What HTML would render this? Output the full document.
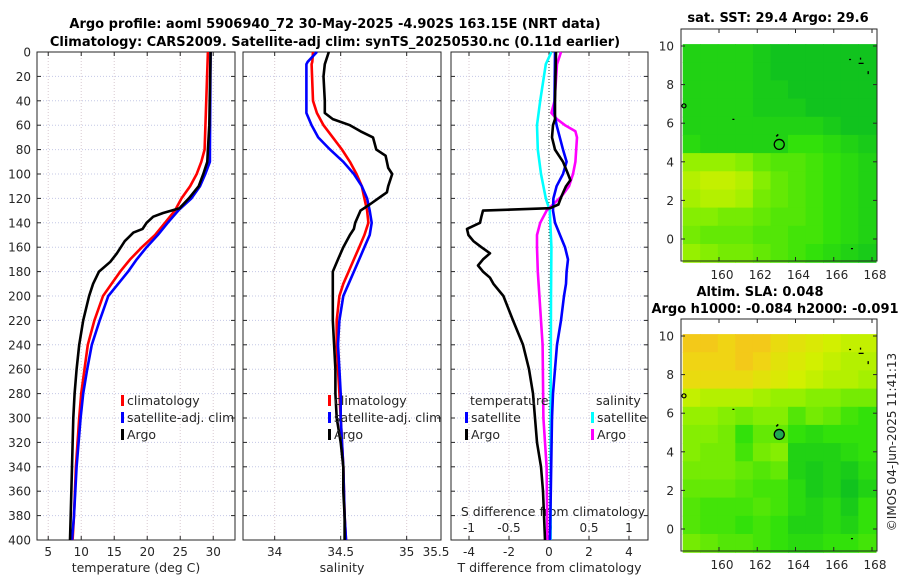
<!DOCTYPE html>
<html><head><meta charset="utf-8"><style>
html,body{margin:0;padding:0;background:#fff;}
svg{display:block;font-family:"DejaVu Sans","Liberation Sans",sans-serif;}
</style></head><body>
<svg id="fig" width="900" height="580" viewBox="0 0 900 580" xmlns="http://www.w3.org/2000/svg">
<text x="335" y="28" text-anchor="middle" font-size="13" font-weight="bold">Argo profile: aoml 5906940_72 30-May-2025 -4.902S 163.15E (NRT data)</text>
<text x="335" y="46" text-anchor="middle" font-size="13" font-weight="bold">Climatology: CARS2009. Satellite-adj clim: synTS_20250530.nc (0.11d earlier)</text>
<text x="778" y="22" text-anchor="middle" font-size="13" font-weight="bold">sat. SST: 29.4 Argo: 29.6</text>
<text x="760" y="296" text-anchor="middle" font-size="13" font-weight="bold">Altim. SLA: 0.048</text>
<text x="775" y="313" text-anchor="middle" font-size="13" font-weight="bold">Argo h1000: -0.084 h2000: -0.091</text>
<text transform="translate(896,442) rotate(-90)" text-anchor="middle" font-size="12" fill="#262626">©IMOS 04-Jun-2025 11:41:13</text>
<g id="g"></g>
</svg>
<script>
// ---------- DATA ----------
const depthT = [0,60,80,90,100,110,120,128,132,135,140,145,148,155,165,172,180,190,200,220,240,260,280,300,340,380,400];
const argoT  = [29.6,29.4,29.2,29.1,28.5,27.8,26.3,24.9,22.4,20.9,19.9,19.3,17.9,16.6,15.4,14.4,12.7,11.8,11.2,10.3,9.7,9.3,9.0,8.8,8.6,8.4,8.3];
const depthC = [0,80,90,100,110,120,130,140,150,160,170,180,190,200,220,240,260,280,300,340,380,400];
const climT  = [29.2,28.7,28.2,27.5,26.5,25.2,24.2,22.7,21.2,19.2,17.4,15.9,14.6,13.3,12.0,11.0,10.5,10.0,9.7,9.2,8.9,8.7];
const satT   = [29.6,29.5,29.5,28.8,28.0,26.7,24.7,23.1,21.6,19.9,18.4,17.1,15.6,14.1,12.8,11.6,10.9,10.3,9.9,9.3,8.9,8.6];

const depthSA = [0,10,20,40,50,55,60,65,70,80,85,95,100,110,115,125,130,140,145,150,160,170,180,200,220,240,260,280,300,320,340,360,380,400];
const argoS   = [34.41,34.38,34.37,34.38,34.38,34.44,34.57,34.65,34.745,34.77,34.84,34.86,34.89,34.86,34.85,34.72,34.65,34.61,34.60,34.57,34.52,34.48,34.44,34.44,34.44,34.45,34.46,34.46,34.47,34.50,34.52,34.52,34.53,34.53];
const depthSC = [0,8,10,40,50,60,70,80,90,100,110,120,130,140,150,160,170,180,190,200,220,240,260,280,300,340,380,400];
const climS   = [34.29,34.285,34.28,34.29,34.32,34.37,34.44,34.51,34.57,34.62,34.66,34.68,34.70,34.71,34.68,34.64,34.60,34.56,34.52,34.49,34.47,34.47,34.48,34.49,34.50,34.52,34.53,34.54];
const satS    = [34.32,34.25,34.24,34.24,34.24,34.28,34.33,34.42,34.52,34.60,34.66,34.70,34.72,34.735,34.72,34.68,34.64,34.60,34.56,34.52,34.49,34.48,34.49,34.50,34.50,34.52,34.53,34.54];

const depthDT = [0,50,60,80,90,100,110,120,130,140,150,160,170,180,190,200,220,240,260,280,300,400];
const satDT   = [0.3,0.27,0.38,0.7,0.88,0.7,0.38,0.22,0.2,0.3,0.55,0.8,0.95,0.88,0.85,0.75,0.6,0.4,0.3,0.2,0.15,0.05];
const depthDA = [0,40,55,60,70,80,90,100,105,110,118,125,128,130,135,140,145,150,155,160,165,170,175,180,185,190,200,220,240,260,280,300,320,340,360,380,400];
const argoDT  = [0.35,0.3,0.3,0.2,0.15,0.3,0.7,0.95,1.07,0.85,0.63,0.47,0.05,-3.3,-3.38,-3.45,-4.1,-4.03,-3.78,-3.38,-2.95,-3.3,-3.55,-3.3,-2.95,-2.78,-2.28,-1.8,-1.3,-1.0,-0.8,-0.7,-0.6,-0.4,-0.3,-0.25,-0.2];
const depthDS = [0,10,40,60,80,100,120,130,160,200,300,400];
const satDS   = [0.03,-0.04,-0.11,-0.15,-0.14,-0.1,-0.04,0.01,0.03,0.025,0.02,0.02];
const depthDM = [0,10,40,50,55,60,65,70,80,90,100,110,118,125,130,140,150,160,180,200,240,300,340,400];
const argoDS  = [0.15,0.1,0.07,0.03,0.1,0.2,0.33,0.35,0.34,0.33,0.3,0.25,0.16,0.05,-0.03,-0.11,-0.15,-0.15,-0.14,-0.12,-0.08,-0.07,-0.03,-0.02];

const depthTicks = [0,20,40,60,80,100,120,140,160,180,200,220,240,260,280,300,320,340,360,380,400];
const tempTicks = [5,10,15,20,25,30];
const salTicks = [34,34.5,35];
const dTTicks = [-4,-2,0,2,4];
const dSTickLabels = ["-1","-0.5","0","0.5","1"];
const lonTicks = [160,162,164,166,168];
const latTicks = [0,2,4,6,8,10];
const sstGrid = [
[.2,.2,.2,.2,.15,.1,.1,.1,.1,.1,.1],
[.2,.2,.2,.2,.15,.1,.1,.1,.1,.1,.1],
[.2,.2,.2,.2,.15,.15,.1,.1,.1,.1,.1],
[.2,.2,.2,.2,.15,.15,.15,.1,.1,.1,.1],
[.2,.2,.2,.2,.2,.2,.2,.2,.15,.1,.1],
[.25,.2,.2,.2,.2,.2,.3,.3,.25,.2,.15],
[.6,.6,.6,.55,.45,.4,.4,.35,.3,.25,.2],
[.7,.75,.75,.7,.55,.45,.4,.35,.3,.25,.2],
[.65,.7,.7,.65,.5,.45,.4,.35,.3,.25,.2],
[.55,.55,.5,.5,.45,.4,.4,.35,.3,.25,.2],
[.5,.45,.45,.45,.4,.4,.35,.35,.3,.25,.2],
[.6,.55,.5,.5,.45,.4,.35,.3,.25,.2,.15]];
const slaGrid = [
[1.05,1.05,1.0,1.05,1.05,.95,.9,.85,.8,.75,.75],
[1.0,1.0,1.0,1.05,1.0,.9,.85,.8,.75,.7,.7],
[.95,.95,.95,.95,.9,.85,.8,.75,.7,.7,.65],
[.75,.7,.7,.7,.65,.6,.6,.55,.55,.5,.5],
[.6,.6,.55,.5,.55,.55,.4,.5,.45,.35,.3],
[.55,.55,.5,.3,.45,.45,.3,.25,.3,.3,.3],
[.55,.5,.5,.35,.5,.55,.2,.2,.2,.25,.3],
[.5,.5,.5,.45,.4,.45,.2,.15,.2,.15,.25],
[.45,.45,.45,.4,.35,.35,.25,.15,.2,.1,.2],
[.4,.35,.35,.35,.4,.35,.25,.2,.25,.15,.3],
[.4,.35,.35,.3,.35,.3,.2,.2,.25,.2,.3],
[.5,.45,.4,.4,.35,.3,.25,.25,.3,.3,.35]];
const floatLon = 163.15, floatLat = 4.9;

// ---------- HELPERS ----------
const NS="http://www.w3.org/2000/svg";
const G=document.getElementById('g');
function mk(tag,attrs,parent){const e=document.createElementNS(NS,tag);for(const k in attrs)e.setAttribute(k,attrs[k]);(parent||G).appendChild(e);return e;}
const Y0=52,Y1=540;
const yD=d=>Y0+(d/400)*(Y1-Y0);
function lin(d0,d1,p0,p1){return v=>p0+(v-d0)/(d1-d0)*(p1-p0);}

function panel(name,x0,x1,xs,xticks,xlabels,title,yLabels){
  const g=mk('g',{});
  
  
  depthTicks.forEach(d=>{const l=mk('line',{x1:x0,x2:x1,y1:yD(d),y2:yD(d),stroke:'#c4c8e6','stroke-width':1,'stroke-dasharray':'1,2'},g);});
  xticks.forEach((t,i)=>{const x=xs(t);
    const l=mk('line',{x1:x,x2:x,y1:Y0,y2:Y1,stroke:'#d8c8d0','stroke-width':1,'stroke-dasharray':'1,2'},g);
    mk('line',{x1:x,x2:x,y1:Y1,y2:Y1-4,stroke:'#262626'},g);mk('line',{x1:x,x2:x,y1:Y0,y2:Y0+4,stroke:'#262626'},g);
    const tx=mk('text',{x:x,y:556,'text-anchor':'middle','font-size':12,fill:'#262626'},g);tx.textContent=xlabels[i];
  });
  depthTicks.forEach(d=>{mk('line',{x1:x0,x2:x0+4,y1:yD(d),y2:yD(d),stroke:'#262626'},g);mk('line',{x1:x1,x2:x1-4,y1:yD(d),y2:yD(d),stroke:'#262626'},g);
    if(yLabels){const t=mk('text',{x:31,y:yD(d)+4.5,'text-anchor':'end','font-size':12,fill:'#262626'},g);t.textContent=d;}});
  const r=mk('rect',{x:x0,y:Y0,width:x1-x0,height:Y1-Y0,fill:'none',stroke:'#262626','stroke-width':1},g);
  const at=mk('text',{x:(x0+x1)/2,y:572,'text-anchor':'middle','font-size':12.5,fill:'#262626'},g);at.textContent=title;
  return g;
}
function series(g,name,depths,vals,xs,color){
  const pts=depths.map((d,i)=>xs(vals[i]).toFixed(1)+','+yD(d).toFixed(1)).join(' ');
  const p=mk('polyline',{points:pts,fill:'none',stroke:color,'stroke-width':2.6,'stroke-linejoin':'round'},g);
  
  
}
function legend(g,x,y,items){
  items.forEach((it,i)=>{const yy=y+i*17;
    const b=mk('rect',{x:x,y:yy-9,width:3,height:11,fill:it[1]},g);
    const t=mk('text',{x:x+6,y:yy+1,'font-size':12.5,fill:'#262626'},g);t.textContent=it[0];});
}

// ---------- PANEL 1: temperature ----------
const xT=lin(3.3,33.3,37,235);
const p1=panel('temperature-panel',37,235,xT,tempTicks,tempTicks.map(String),'temperature (deg C)',true);
series(p1,'climatology-temp-line',depthC,climT,xT,'#ff0000');
series(p1,'satellite-temp-line',depthC,satT,xT,'#0000ff');
series(p1,'argo-temp-line',depthT,argoT,xT,'#000000');
legend(p1,121,404,[['climatology','#ff0000'],['satellite-adj. clim','#0000ff'],['Argo','#000000']]);

// ---------- PANEL 2: salinity ----------
const xS=lin(33.76,35.26,243,441);
const p2=panel('salinity-panel',243,441,xS,salTicks,salTicks.map(String),'salinity',false);
{const t=mk('text',{x:436,y:556,'text-anchor':'middle','font-size':12,fill:'#262626'},p2);t.textContent='35.5';}
series(p2,'climatology-sal-line',depthSC,climS,xS,'#ff0000');
series(p2,'satellite-sal-line',depthSC,satS,xS,'#0000ff');
series(p2,'argo-sal-line',depthSA,argoS,xS,'#000000');
legend(p2,328,404,[['climatology','#ff0000'],['satellite-adj. clim','#0000ff'],['Argo','#000000']]);

// ---------- PANEL 3: differences ----------
const xDT=lin(-4.9,4.95,451,648);
const xDS=v=>xDT(v*4);
const p3=panel('difference-panel',451,648,xDT,dTTicks,dTTicks.map(String),'T difference from climatology',false);
mk('line',{x1:xDT(0),x2:xDT(0),y1:Y0,y2:Y1,stroke:'#333','stroke-width':1,'stroke-dasharray':'1,2'},p3);
dTTicks.forEach((t,i)=>{const tx=mk('text',{x:xDT(t),y:532,'text-anchor':'middle','font-size':12,fill:'#262626'},p3);tx.textContent=dSTickLabels[i];});
{const t=mk('text',{x:553,y:516,'text-anchor':'middle','font-size':12.5,fill:'#262626'},p3);t.textContent='S difference from climatology';}
series(p3,'satellite-s-diff-line',depthDS,satDS,xDS,'#00ffff');
series(p3,'argo-s-diff-line',depthDM,argoDS,xDS,'#ff00ff');
series(p3,'satellite-t-diff-line',depthDT,satDT,xDT,'#0000ff');
series(p3,'argo-t-diff-line',depthDA,argoDT,xDT,'#000000');
{const t=mk('text',{x:470,y:405,'font-size':12.5,fill:'#262626'},p3);t.textContent='temperature';
 const s=mk('text',{x:596,y:405,'font-size':12.5,fill:'#262626'},p3);s.textContent='salinity';}
legend(p3,465,421,[['satellite','#0000ff'],['Argo','#000000']]);
legend(p3,591,421,[['satellite','#00ffff'],['Argo','#ff00ff']]);

// ---------- MAPS ----------
const stops=[[0,[0,180,40]],[0.3,[50,225,10]],[0.6,[150,240,0]],[0.8,[210,240,0]],[1.0,[240,212,20]],[1.1,[245,190,30]]];
function cmap(v){for(let i=1;i<stops.length;i++){if(v<=stops[i][0]){const a=stops[i-1],b=stops[i],f=(v-a[0])/(b[0]-a[0]);const c=a[1].map((x,k)=>Math.round(x+(b[1][k]-x)*f));return 'rgb('+c.join(',')+')';}}return 'rgb(245,190,30)';}
function map(name,top,bottom,grid,markerFill){
  const x0=681,x1=877;
  const xL=lin(160,168,719,872);
  const yL=lin(0,10,top+210,top+17);
  const g=mk('g',{});
  
  
  const lonMin=158.1,lonMax=168.2,latMax=10.1,latMin=-1.2;
  const nr=grid.length,nc=grid[0].length;
  const dLon=(lonMax-lonMin)/nc,dLat=(latMax-latMin)/nr;
  grid.forEach((row,r)=>row.forEach((v,c)=>{
    const xa=xL(lonMin+c*dLon),xb=xL(lonMin+(c+1)*dLon),ya=yL(latMax-r*dLat),yb=yL(latMax-(r+1)*dLat);
    const cell=mk('rect',{x:xa.toFixed(1),y:ya.toFixed(1),width:(xb-xa+0.6).toFixed(1),height:(yb-ya+0.6).toFixed(1),fill:cmap(v)},g);
    
    
  }));
  const fr=mk('rect',{x:x0,y:top,width:x1-x0,height:bottom-top,fill:'none',stroke:'#262626'},g);
  
  lonTicks.forEach(t=>{const x=xL(t);mk('line',{x1:x,x2:x,y1:bottom,y2:bottom-4,stroke:'#262626'},g);mk('line',{x1:x,x2:x,y1:top,y2:top+4,stroke:'#262626'},g);
    const tx=mk('text',{x:x+3,y:bottom+18,'text-anchor':'middle','font-size':12,fill:'#262626'},g);tx.textContent=t;});
  latTicks.forEach(t=>{const y=yL(t);mk('line',{x1:x0,x2:x0+4,y1:y,y2:y,stroke:'#262626'},g);mk('line',{x1:x1,x2:x1-4,y1:y,y2:y,stroke:'#262626'},g);
    const tx=mk('text',{x:674,y:y+4.5,'text-anchor':'end','font-size':12,fill:'#262626'},g);tx.textContent=t;});
  const m=mk('circle',{cx:xL(floatLon),cy:yL(floatLat),r:5,fill:markerFill,stroke:'#000','stroke-width':1.3},g);
  
  mk('path',{d:`M${xL(floatLon)-3},${yL(floatLat)-8} l2,-2`,stroke:'#000','stroke-width':1.5},g);
  mk('circle',{cx:684,cy:yL(6.9),r:2,fill:'none',stroke:'#000','stroke-width':1.2},g);
  mk('path',{d:`M${xL(166.8)},${yL(9.3)} h2 M${xL(167.3)},${yL(9.1)} h5 M${xL(167.4)},${yL(9.4)} v2 M${xL(167.8)},${yL(8.7)} v3 M${xL(160.7)},${yL(6.2)} h2 M${xL(166.9)},${yL(-0.5)} h2`,stroke:'#000','stroke-width':1.3},g);
}
map('sst-map',29,261,sstGrid,'none');
map('sla-map',319,551,slaGrid,'#20a850');
</script>
</body></html>
